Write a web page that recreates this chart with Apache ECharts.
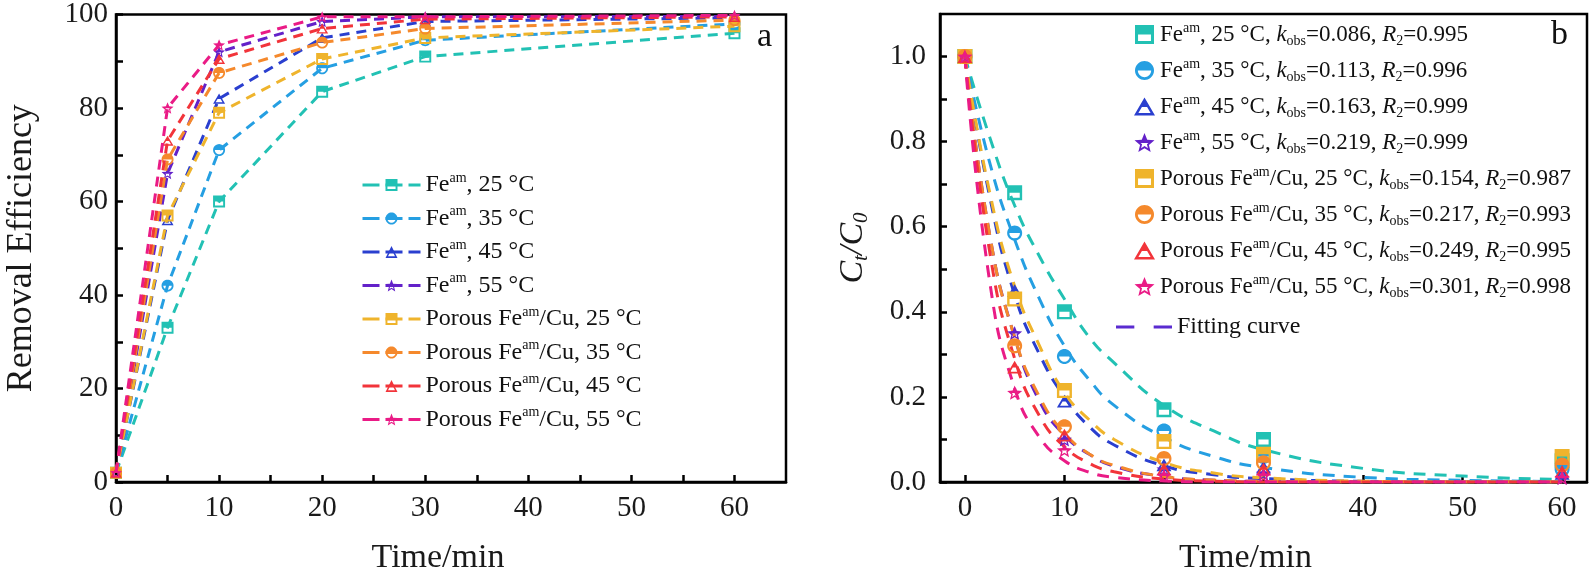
<!DOCTYPE html>
<html><head><meta charset="utf-8">
<script src="https://cdn.jsdelivr.net/npm/echarts@6/dist/echarts.min.js"></script>
<style>html,body{margin:0;padding:0;background:#fff}#c{width:1592px;height:580px}</style>
</head><body><div id="c"></div>
<script>
// ---------- data ----------
const times = [0, 5, 10, 20, 30, 60];
const seriesKeys = ['Fe25','Fe35','Fe45','Fe55','P25','P35','P45','P55'];
// Panel a: removal efficiency (%)
const effFe25 = [2, 33, 60, 83.5, 91, 96];
const effFe35 = [2, 42, 71, 88.5, 94.5, 98];
const effFe45 = [2, 56, 82, 95, 98.5, 99.3];
const effFe55 = [2, 66, 92, 98.5, 99.5, 99.6];
const effP25  = [2, 57, 79, 90.5, 95, 97.5];
const effP35  = [2, 69, 87.5, 94, 97, 98.8];
const effP45  = [2, 73, 90.5, 97, 99, 99.5];
const effP55  = [2, 80, 93.5, 99.5, 99.5, 99.8];
// Panel b: Ct/C0 measured
const cFe25 = [1, 0.68, 0.40, 0.17, 0.10, 0.05];
const cFe35 = [1, 0.585, 0.295, 0.12, 0.06, 0.03];
const cFe45 = [1, 0.45, 0.19, 0.04, 0.035, 0.02];
const cFe55 = [1, 0.35, 0.10, 0.03, 0.02, 0.01];
const cP25  = [1, 0.43, 0.215, 0.095, 0.065, 0.06];
const cP35  = [1, 0.32, 0.13, 0.055, 0.045, 0.04];
const cP45  = [1, 0.27, 0.11, 0.03, 0.03, 0.025];
const cP55  = [1, 0.21, 0.075, 0.015, 0.015, 0.01];
// Panel b: fitting curves
const fitT = [0, 2.5, 5, 7.5, 10, 12.5, 15, 20, 25, 30, 40, 50, 60];
const fitFe25 = [1.0, 0.81, 0.65, 0.53, 0.43, 0.34, 0.28, 0.18, 0.12, 0.076, 0.032, 0.014, 0.006];
const fitFe35 = [1.0, 0.75, 0.57, 0.43, 0.32, 0.24, 0.18, 0.105, 0.06, 0.034, 0.011, 0.004, 0.001];
const fitFe45 = [1.0, 0.67, 0.44, 0.30, 0.20, 0.13, 0.087, 0.038, 0.017, 0.008, 0.0015, 0, 0];
const fitFe55 = [1.0, 0.58, 0.34, 0.19, 0.11, 0.065, 0.037, 0.013, 0.004, 0.0015, 0, 0, 0];
const fitP25  = [1.0, 0.68, 0.46, 0.32, 0.21, 0.146, 0.10, 0.046, 0.021, 0.01, 0.002, 0, 0];
const fitP35  = [1.0, 0.58, 0.34, 0.20, 0.115, 0.066, 0.039, 0.013, 0.0045, 0.0015, 0, 0, 0];
const fitP45  = [1.0, 0.54, 0.29, 0.155, 0.083, 0.044, 0.024, 0.007, 0.002, 0, 0, 0, 0];
const fitP55  = [1.0, 0.47, 0.22, 0.105, 0.05, 0.023, 0.011, 0.0025, 0, 0, 0, 0, 0];
// legend texts
const legendA = {
  Fe25: '{n|Fe}{sup|am}{n|, 25 °C}', Fe35: '{n|Fe}{sup|am}{n|, 35 °C}',
  Fe45: '{n|Fe}{sup|am}{n|, 45 °C}', Fe55: '{n|Fe}{sup|am}{n|, 55 °C}',
  P25: '{n|Porous Fe}{sup|am}{n|/Cu, 25 °C}', P35: '{n|Porous Fe}{sup|am}{n|/Cu, 35 °C}',
  P45: '{n|Porous Fe}{sup|am}{n|/Cu, 45 °C}', P55: '{n|Porous Fe}{sup|am}{n|/Cu, 55 °C}'
};
const kobs = ['0.086','0.113','0.163','0.219','0.154','0.217','0.249','0.301'];
const r2   = ['0.995','0.996','0.999','0.999','0.987','0.993','0.995','0.998'];
const temps = ['25','35','45','55','25','35','45','55'];
const xTicksA = [0, 10, 20, 30, 40, 50, 60];

// ---------- styling ----------
const colors = ['#22c1b4','#259fe2','#2a3fcf','#6321c9','#efb42c','#f5892c','#f2343a','#ea1b86'];
const shapes = ['square','circle','triangle','star','square','circle','triangle','star'];
const FONT = 'Liberation Serif';

function polyPath(pts){
  return pts.map((p,i)=>(i?'L':'M')+p[0].toFixed(3)+' '+p[1].toFixed(3)).join(' ')+' Z';
}
function clipBelow(pts, yc){
  const out=[]; const n=pts.length;
  const inter=(a,b)=>{const t=(yc-a[1])/(b[1]-a[1]);return [a[0]+(b[0]-a[0])*t, yc];};
  for(let i=0;i<n;i++){
    const cur=pts[i], prev=pts[(i+n-1)%n];
    const ci=cur[1]>=yc, pi=prev[1]>=yc;
    if(ci){ if(!pi) out.push(inter(prev,cur)); out.push(cur); }
    else if(pi) out.push(inter(prev,cur));
  }
  return out;
}
function halfSymbol(pts, cx, cy, scale, split){
  const inner = pts.map(p=>[cx+(p[0]-cx)*scale, cy+(p[1]-cy)*scale]);
  const lower = clipBelow(inner, split).reverse();
  return 'path://' + polyPath(pts) + ' ' + polyPath(lower);
}
const shapePts = {
  square: [[-5,-5],[5,-5],[5,5],[-5,5]],
  circle: Array.from({length:36},(_,i)=>{const a=-Math.PI/2+i*2*Math.PI/36;return [5*Math.cos(a),5*Math.sin(a)];}),
  triangle: [[0,-5],[5.6,4.5],[-5.6,4.5]],
  star: Array.from({length:10},(_,i)=>{const a=-Math.PI/2+i*Math.PI/5;const r=i%2?2.3:5.2;return [r*Math.cos(a),r*Math.sin(a)];})
};
const symbols = {
  square: halfSymbol(shapePts.square, 0, 0, 0.68, 0),
  circle: halfSymbol(shapePts.circle, 0, 0, 0.70, 0),
  triangle: halfSymbol(shapePts.triangle, 0, 1.3, 0.58, 0),
  star: halfSymbol(shapePts.star, 0, 0, 0.55, -0.2)
};

const effData = [effFe25,effFe35,effFe45,effFe55,effP25,effP35,effP45,effP55];
const cData = [cFe25,cFe35,cFe45,cFe55,cP25,cP35,cP45,cP55];
const fitData = [fitFe25,fitFe35,fitFe45,fitFe55,fitP25,fitP35,fitP45,fitP55];

const richBase = (fs) => ({
  n: {fontFamily: FONT, fontSize: fs, color: '#111', lineHeight: fs+4},
  sup: {fontFamily: FONT, fontSize: Math.round(fs*0.6), color: '#111', verticalAlign: 'top', lineHeight: Math.round(fs*0.6)+2},
  i: {fontFamily: FONT, fontSize: fs, fontStyle: 'italic', color: '#111', lineHeight: fs+4},
  sub: {fontFamily: FONT, fontSize: Math.round(fs*0.6), color: '#111', verticalAlign: 'bottom', lineHeight: Math.round(fs*0.6)+2}
});

const series = [];
seriesKeys.forEach((k, idx) => {
  series.push({
    name: 'A-' + k, type: 'line', xAxisIndex: 0, yAxisIndex: 0,
    data: times.map((t, i) => [t, effData[idx][i]]),
    symbol: symbols[shapes[idx]], symbolSize: 12, symbolKeepAspect: true, showSymbol: true,
    itemStyle: {color: colors[idx]},
    lineStyle: {color: colors[idx], width: 3, type: [10, 7]},
    z: 2 + idx
  });
});
seriesKeys.forEach((k, idx) => {
  series.push({
    name: 'F-' + k, type: 'line', xAxisIndex: 1, yAxisIndex: 1,
    data: fitT.map((t, i) => [t, fitData[idx][i]]),
    symbol: 'none', showSymbol: false, smooth: 0.5,
    lineStyle: {color: colors[idx], width: 3, type: [12, 9]},
    itemStyle: {color: colors[idx]}, z: 2 + idx
  });
});
seriesKeys.forEach((k, idx) => {
  series.push({
    name: 'B-' + k, type: 'scatter', xAxisIndex: 1, yAxisIndex: 1,
    data: times.map((t, i) => [t, cData[idx][i]]),
    symbol: symbols[shapes[idx]], symbolSize: 15, symbolKeepAspect: true,
    itemStyle: {color: colors[idx], opacity: 1}, z: 12 + idx
  });
});
series.push({
  name: 'Fitting curve', type: 'line', xAxisIndex: 1, yAxisIndex: 1, data: [],
  symbol: 'none', lineStyle: {color: '#5a2bd0', width: 3, type: [18, 18]}, itemStyle: {color: '#5a2bd0'}
});

const axisCommon = {
  axisLine: {show: true, onZero: false, lineStyle: {color: '#000', width: 2.5}},
  axisTick: {show: true, inside: true, length: 7, lineStyle: {color: '#000', width: 2.5}},
  splitLine: {show: false},
  axisLabel: {fontFamily: FONT, fontSize: 29, color: '#1a1a1a', margin: 12}
};
const nameStyle = {fontFamily: FONT, fontSize: 34, color: '#1a1a1a'};

const option = {
  backgroundColor: '#fff',
  animation: false,
  grid: [
    {left: 116, top: 11, width: 670, height: 477, show: true, borderColor: '#000', borderWidth: 2.5, backgroundColor: 'transparent'},
    {left: 940, top: 14, width: 647, height: 475, show: true, borderColor: '#000', borderWidth: 2.5, backgroundColor: 'transparent'}
  ],
  xAxis: [
    Object.assign({}, axisCommon, {
      type: 'value', gridIndex: 0, min: 0, max: 65, interval: 5,
      name: 'Time/min', nameLocation: 'middle', nameGap: 59,
      nameTextStyle: Object.assign({}, nameStyle, {padding: [0, 26, 0, 0]}),
      axisLabel: Object.assign({}, axisCommon.axisLabel, {showMaxLabel: false,
        formatter: v => xTicksA.indexOf(v) >= 0 ? String(v) : ''})
    }),
    Object.assign({}, axisCommon, {
      type: 'value', gridIndex: 1, min: -2.5, max: 62.5, minInterval: 10, maxInterval: 10, splitNumber: 6,
      name: 'Time/min', nameLocation: 'middle', nameGap: 59,
      nameTextStyle: Object.assign({}, nameStyle, {padding: [0, 36, 0, 0]}),
      axisLabel: Object.assign({}, axisCommon.axisLabel, {showMaxLabel: false, showMinLabel: false,
        formatter: v => (Math.abs(v % 10) < 1e-6 ? String(v) : '')})
    })
  ],
  yAxis: [
    Object.assign({}, axisCommon, {
      type: 'value', gridIndex: 0, min: 0, max: 100, interval: 10,
      name: 'Removal Efficiency', nameLocation: 'middle', nameGap: 76, nameRotate: 90,
      nameTextStyle: Object.assign({}, nameStyle, {fontSize: 36}),
      axisLabel: Object.assign({}, axisCommon.axisLabel, {margin: 8,
        formatter: v => (Math.round(v) % 20 === 0 ? String(v) : '')})
    }),
    Object.assign({}, axisCommon, {
      type: 'value', gridIndex: 1, min: 0, max: 1.1, interval: 0.1,
      name: '{i|C}{sub|t}{i|/C}{sub|0}', nameLocation: 'middle', nameGap: 68, nameRotate: 90,
      nameTextStyle: {fontFamily: FONT, fontSize: 34, color: '#1a1a1a', rich: {
        i: {fontFamily: FONT, fontSize: 34, fontStyle: 'italic', color: '#1a1a1a', lineHeight: 38},
        sub: {fontFamily: FONT, fontSize: 21, fontStyle: 'italic', color: '#1a1a1a', verticalAlign: 'bottom', lineHeight: 22}
      }},
      axisLabel: Object.assign({}, axisCommon.axisLabel, {margin: 14, showMaxLabel: false,
        formatter: v => { const t = Math.round(v * 10); return (t % 2 === 0 && t <= 10) ? v.toFixed(1) : ''; }})
    })
  ],
  legend: [
    {
      data: seriesKeys.map(k => 'A-' + k), orient: 'vertical', left: 356, top: 166,
      itemWidth: 58, itemHeight: 15, itemGap: 7.5,
      lineStyle: {type: [17, 6], width: 3},
      formatter: name => legendA[name.slice(2)],
      textStyle: {fontFamily: FONT, fontSize: 24, color: '#111', rich: richBase(24)}
    },
    {
      data: seriesKeys.map(k => 'B-' + k), orient: 'vertical', left: 1129, top: 16,
      itemWidth: 21, itemHeight: 19, itemGap: 9,
      formatter: name => {
        const i = seriesKeys.indexOf(name.slice(2));
        const pre = i < 4 ? '{n|Fe}{sup|am}{n|, ' : '{n|Porous Fe}{sup|am}{n|/Cu, ';
        return pre + temps[i] + ' °C, }{i|k}{sub|obs}{n|=' + kobs[i] + ', }{i|R}{sub|2}{n|=' + r2[i] + '}';
      },
      textStyle: {fontFamily: FONT, fontSize: 23, color: '#111', rich: richBase(23)}
    },
    {
      data: [{name: 'Fitting curve', icon: 'path://M0,0 H18 V3 H0 Z M37,0 H55 V3 H37 Z'}],
      orient: 'vertical', left: 1111, top: 310,
      itemWidth: 56, itemHeight: 3.2,
      textStyle: {fontFamily: FONT, fontSize: 24, color: '#111'}
    }
  ],
  graphic: [
    {type: 'text', left: 757, top: 20, style: {text: 'a', fontFamily: FONT, fontSize: 34, fill: '#111'}},
    {type: 'text', left: 1551, top: 18, style: {text: 'b', fontFamily: FONT, fontSize: 34, fill: '#111'}}
  ],
  series: series
};
const chart = echarts.init(document.getElementById('c'), null, {renderer: 'canvas'});
chart.setOption(option);
</script></body></html>
